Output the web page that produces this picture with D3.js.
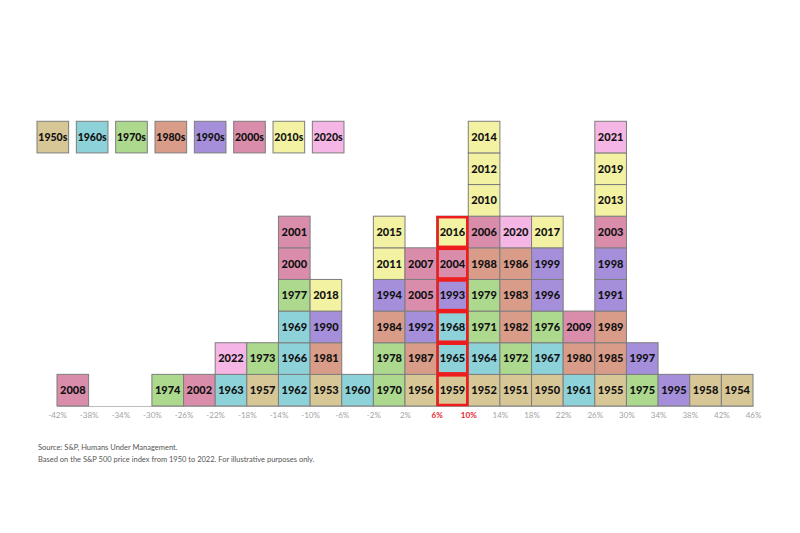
<!DOCTYPE html>
<html>
<head>
<meta charset="utf-8">
<script src="https://cdn.jsdelivr.net/npm/d3@7"></script>
<style>
  body { margin: 0; background: #fff; }
  svg { display: block; font-family: Lato, "Open Sans", sans-serif; }
</style>
</head>
<body>
<svg width="800" height="533"></svg>
<script>
// S&P 500 calendar-year returns grouped in 4% bins (lower bound of bin)
const binStarts = [-42, -30, -26, -22, -18, -14, -10, -6, -2, 2, 6, 10, 14, 18, 22, 26, 30, 34, 38, 42];
const binYears = [
  [2008],
  [1974],
  [2002],
  [1963, 2022],
  [1957, 1973],
  [1962, 1966, 1969, 1977, 2000, 2001],
  [1953, 1981, 1990, 2018],
  [1960],
  [1970, 1978, 1984, 1994, 2011, 2015],
  [1956, 1987, 1992, 2005, 2007],
  [1959, 1965, 1968, 1993, 2004, 2016],
  [1952, 1964, 1971, 1979, 1988, 2006, 2010, 2012, 2014],
  [1951, 1972, 1982, 1983, 1986, 2020],
  [1950, 1967, 1976, 1996, 1999, 2017],
  [1961, 1980, 2009],
  [1955, 1985, 1989, 1991, 1998, 2003, 2013, 2019, 2021],
  [1975, 1997],
  [1995],
  [1958],
  [1954]
];
const decades = ["1950s", "1960s", "1970s", "1980s", "1990s", "2000s", "2010s", "2020s"];
const tickValues = d3.range(-42, 47, 4);
const highlightBin = 6;

const decadeColors = ["#d8c796", "#8dd2d9", "#acd98e", "#d99c89", "#a58fdb", "#d98dab", "#f3f1a2", "#f6b6e5"];
const color = d3.scaleOrdinal().domain(decades).range(decadeColors);

const margin = { left: 57, right: 47, baseline: 406 };
const svg = d3.select("svg");

const x = d3.scaleLinear().domain([-42, 46]).range([margin.left, 800 - margin.right]);
const cell = x(4) - x(0);
const y = d3.scaleLinear().domain([0, 9]).range([margin.baseline, margin.baseline - 9 * cell]);

// flatten bins to cells, earliest year at the bottom
const cells = [];
binStarts.forEach((b, i) => {
  binYears[i].slice().sort((a, c) => a - c).forEach((yr, j) => {
    cells.push({ bin: b, year: yr, row: j, decade: Math.floor(yr / 10) * 10 + "s" });
  });
});

// axis
const axis = d3.axisBottom(x)
  .tickValues(tickValues)
  .tickSize(0)
  .tickPadding(6)
  .tickFormat(d => d + "%");

const gAxis = svg.append("g")
  .attr("transform", `translate(0, ${margin.baseline})`)
  .call(axis);
gAxis.select(".domain").attr("stroke", "#bdbdbd").attr("stroke-width", 1);
gAxis.selectAll("text")
  .attr("font-size", 8)
  .attr("font-family", "Lato, sans-serif")
  .attr("fill", d => (d === highlightBin || d === highlightBin + 4) ? "#e8231f" : "#a3a3a3")
  .attr("font-weight", d => (d === highlightBin || d === highlightBin + 4) ? 700 : 400);

// blocks
const g = svg.append("g");
const block = g.selectAll("g.block")
  .data(cells)
  .enter().append("g")
  .attr("class", "block")
  .attr("transform", d => `translate(${x(d.bin)}, ${y(d.row + 1)})`);

block.append("rect")
  .attr("width", cell)
  .attr("height", cell)
  .attr("fill", d => color(d.decade))
  .attr("stroke", "#7d7d7d")
  .attr("stroke-width", 1);

block.append("text")
  .attr("x", cell / 2)
  .attr("y", cell / 2)
  .attr("dy", "0.36em")
  .attr("text-anchor", "middle")
  .attr("font-size", 11)
  .attr("font-weight", 900)
  .attr("fill", "#111")
  .text(d => d.year);

// red highlight on the 6%-10% column
g.selectAll("rect.hl")
  .data(cells.filter(d => d.bin === highlightBin))
  .enter().append("rect")
  .attr("class", "hl")
  .attr("x", d => x(d.bin) + 1)
  .attr("y", d => y(d.row + 1) + 1)
  .attr("width", cell - 2)
  .attr("height", cell - 2)
  .attr("fill", "none")
  .attr("stroke", "#ee1c1c")
  .attr("stroke-width", 2.5);

// legend
const legendX = 37, legendY = y(9), legendStep = cell + 7.7;
const legend = svg.append("g").selectAll("g")
  .data(decades)
  .enter().append("g")
  .attr("transform", (d, i) => `translate(${legendX + i * legendStep}, ${legendY})`);

legend.append("rect")
  .attr("width", cell)
  .attr("height", cell)
  .attr("fill", d => color(d))
  .attr("stroke", "#7d7d7d")
  .attr("stroke-width", 1);

legend.append("text")
  .attr("x", cell / 2)
  .attr("y", cell / 2)
  .attr("dy", "0.36em")
  .attr("text-anchor", "middle")
  .attr("font-size", 10.5)
  .attr("font-weight", 900)
  .attr("fill", "#111")
  .text(d => d);

// footnotes
const notes = svg.append("g")
  .attr("font-size", 7.5)
  .attr("fill", "#555");
notes.append("text").attr("x", 38).attr("y", 450).text("Source: S&P, Humans Under Management.");
notes.append("text").attr("x", 38).attr("y", 462).text("Based on the S&P 500 price index from 1950 to 2022. For illustrative purposes only.");
</script>
</body>
</html>
